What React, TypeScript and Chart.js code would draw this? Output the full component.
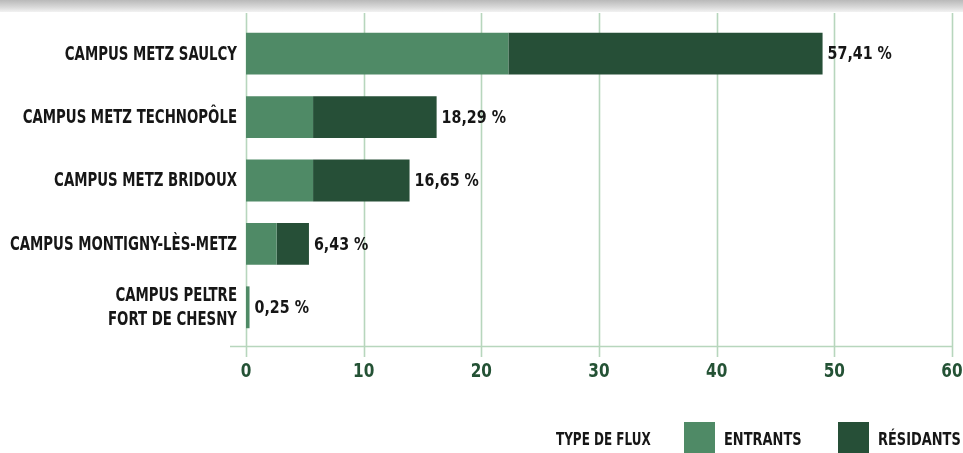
import React, { useEffect, useRef } from "react";
import { Chart, registerables } from "chart.js";

Chart.register(...registerables);

const categories: string[][] = [
  ["CAMPUS METZ SAULCY"],
  ["CAMPUS METZ TECHNOPÔLE"],
  ["CAMPUS METZ BRIDOUX"],
  ["CAMPUS MONTIGNY-LÈS-METZ"],
  ["CAMPUS PELTRE", "FORT DE CHESNY"],
];
const entrants = [22.3, 5.7, 5.7, 2.6, 0.3];
const residants = [26.7, 10.5, 8.2, 2.75, 0];
const valueLabels = ["57,41 %", "18,29 %", "16,65 %", "6,43 %", "0,25 %"];
const xTicks = [0, 10, 20, 30, 40, 50, 60];
const legendTitle = "TYPE DE FLUX";
const seriesNames = ["ENTRANTS", "RÉSIDANTS"];

const LIGHT = "#4f8a66";
const DARK = "#264f37";
const GRID = "#b7d6bd";
const TICK = "#245235";
const INK = "#161616";
const FONT = "'DejaVu Sans Condensed', 'DejaVu Sans', sans-serif";

function drawText(ctx: CanvasRenderingContext2D, text: string, x: number, y: number, align: CanvasTextAlign, sx: number) {
  ctx.save();
  ctx.translate(x, y);
  ctx.scale(sx, 1);
  ctx.textAlign = align;
  ctx.textBaseline = "middle";
  ctx.fillText(text, 0, 0);
  ctx.restore();
}

const decorPlugin = {
  id: "decor",
  beforeDatasetsDraw(chart: any) {
    const { ctx, chartArea, scales } = chart;
    const xs = scales.x;
    ctx.save();
    ctx.strokeStyle = GRID;
    ctx.lineWidth = 1.6;
    xTicks.forEach((v) => {
      const x = Math.round(xs.getPixelForValue(v)) + 0.5;
      ctx.beginPath();
      ctx.moveTo(x, chartArea.top - 9);
      ctx.lineTo(x, chartArea.bottom + 18);
      ctx.stroke();
    });
    ctx.beginPath();
    const yAxis = chartArea.bottom + 7.5;
    ctx.moveTo(xs.getPixelForValue(0) - 16, yAxis);
    ctx.lineTo(xs.getPixelForValue(60), yAxis);
    ctx.stroke();
    ctx.restore();
  },
  afterDatasetsDraw(chart: any) {
    const { ctx, scales, chartArea } = chart;
    const xs = scales.x;
    const ys = scales.y;
    ctx.save();
    // category labels
    ctx.fillStyle = INK;
    ctx.font = `bold 19px ${FONT}`;
    categories.forEach((lines, i) => {
      const yc = ys.getPixelForValue(i) + 1;
      const step = 24;
      const y0 = yc - ((lines.length - 1) * step) / 2;
      lines.forEach((l, j) => drawText(ctx, l, chartArea.left - 9, y0 + j * step, "right", 0.78));
    });
    // value labels
    ctx.font = `bold 18px ${FONT}`;
    valueLabels.forEach((t, i) => {
      const total = entrants[i] + residants[i];
      const x = xs.getPixelForValue(total) + 5;
      const y = ys.getPixelForValue(i);
      drawText(ctx, t, x, y + 1, "left", 0.88);
    });
    // x tick labels
    ctx.fillStyle = TICK;
    ctx.font = `bold 20px ${FONT}`;
    xTicks.forEach((v) => {
      drawText(ctx, String(v), xs.getPixelForValue(v), chartArea.bottom + 33, "center", 0.85);
    });
    // legend
    const ly = 440;
    ctx.fillStyle = INK;
    ctx.font = `bold 18px ${FONT}`;
    drawText(ctx, legendTitle, 556, ly, "left", 0.74);
    const colors = [LIGHT, DARK];
    const starts = [684, 838];
    const scalesX = [0.8, 0.8];
    seriesNames.forEach((n, i) => {
      ctx.fillStyle = colors[i];
      ctx.fillRect(starts[i], 422, 31, 31);
      ctx.fillStyle = INK;
      drawText(ctx, n, starts[i] + 40, ly, "left", scalesX[i]);
    });
    ctx.restore();
  },
};

export default function App() {
  const ref = useRef<HTMLCanvasElement>(null);
  useEffect(() => {
    document.body.style.margin = "0";
    const chart = new Chart(ref.current!, {
      type: "bar",
      data: {
        labels: categories.map((c) => c.join(" ")),
        datasets: [
          { label: seriesNames[0], data: entrants, backgroundColor: LIGHT, borderWidth: 0 },
          { label: seriesNames[1], data: residants, backgroundColor: DARK, borderWidth: 0 },
        ],
      },
      options: {
        animation: false,
        responsive: false,
        indexAxis: "y",
        layout: { padding: { top: 22, right: 11, bottom: 114, left: 246 } },
        datasets: { bar: { barPercentage: 1, categoryPercentage: 0.66 } } as any,
        plugins: { legend: { display: false }, tooltip: { enabled: false } },
        scales: {
          x: { stacked: true, min: 0, max: 60, display: false },
          y: { stacked: true, display: false },
        },
      },
      plugins: [decorPlugin],
    });
    return () => chart.destroy();
  }, []);
  return (
    <div style={{ position: "relative", width: 963, height: 453, background: "#fff", overflow: "hidden" }}>
      <div
        style={{
          position: "absolute",
          left: 0,
          top: 0,
          width: 963,
          height: 12,
          background: "linear-gradient(#b9b9b9, #d9d9d9 60%, #f2f2f2)",
        }}
      />
      <canvas ref={ref} width={963} height={453} style={{ display: "block" }} />
    </div>
  );
}
